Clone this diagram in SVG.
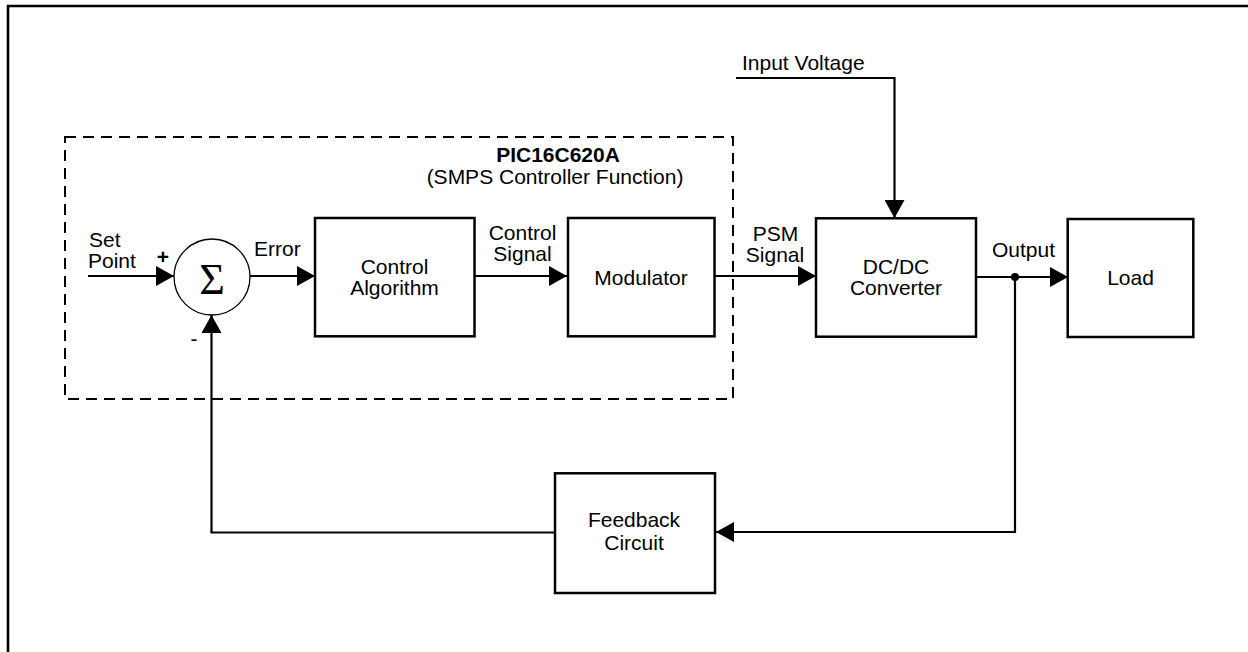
<svg xmlns="http://www.w3.org/2000/svg" width="1248" height="652" viewBox="0 0 1248 652">
<style>
.frame{fill:none;stroke:#000;stroke-width:2.6}
.box{fill:#fff;stroke:#000;stroke-width:2.5}
.dash{fill:none;stroke:#000;stroke-width:2;stroke-dasharray:11 7}
.wire{fill:none;stroke:#000;stroke-width:2.2}
.t{font-family:"Liberation Sans",Arial,sans-serif;font-size:21px;fill:#000}
.m{text-anchor:middle}
.b{font-weight:bold}
</style>
<defs>
<marker id="ah" markerUnits="userSpaceOnUse" markerWidth="18" markerHeight="20" refX="18" refY="10" orient="auto">
<path d="M0,0 L18,10 L0,20 z" fill="#000"/>
</marker>
</defs>
<rect width="1248" height="652" fill="#fff"/>
<path class="frame" d="M8,652 V6 H1248"/>
<g id="controller">
<rect class="dash" x="65" y="137" width="668" height="262"/>
<text class="t m" x="557" y="162"><tspan class="b" x="558">PIC16C620A</tspan><tspan x="555" dy="22">(SMPS Controller Function)</tspan></text>
</g>
<g id="connectors">
<line class="wire" x1="88" y1="276" x2="174" y2="276" marker-end="url(#ah)"/>
<line class="wire" x1="250" y1="276" x2="315" y2="276" marker-end="url(#ah)"/>
<line class="wire" x1="475" y1="276" x2="567" y2="276" marker-end="url(#ah)"/>
<line class="wire" x1="715" y1="276" x2="816" y2="276" marker-end="url(#ah)"/>
<polyline class="wire" points="736,78 894.5,78 894.5,218" marker-end="url(#ah)"/>
<line class="wire" x1="976" y1="277" x2="1068" y2="277" marker-end="url(#ah)"/>
<polyline class="wire" points="1015,277 1015,532 716,532" marker-end="url(#ah)"/>
<polyline class="wire" points="555,532.5 211.5,532.5 211.5,315" marker-end="url(#ah)"/>
<circle cx="1015" cy="277" r="4" fill="#000"/>
<text class="t" x="89" y="247"><tspan x="89">Set</tspan><tspan x="88" dy="21">Point</tspan></text>
<text class="t m b" x="163" y="264">+</text>
<text class="t m" x="194" y="346">-</text>
<text class="t" x="254" y="256">Error</text>
<text class="t m" x="522.5" y="239.5"><tspan x="522.5">Control</tspan><tspan x="522.5" dy="21">Signal</tspan></text>
<text class="t m" x="775.5" y="241"><tspan x="775.5">PSM</tspan><tspan x="775" dy="21">Signal</tspan></text>
<text class="t" x="742" y="69.5">Input Voltage</text>
<text class="t" x="992" y="257">Output</text>
</g>
<g id="sum">
<circle cx="212" cy="277" r="38" fill="#fff" stroke="#000" stroke-width="1.3"/>
<text x="212" y="294" text-anchor="middle" font-family="'Liberation Serif','Times New Roman',serif" font-size="44">Σ</text>
</g>
<g id="control-algorithm">
<rect class="box" x="315" y="218" width="159.5" height="118.3"/>
<text class="t m" x="394.5" y="274"><tspan x="394.5">Control</tspan><tspan x="394.5" dy="21">Algorithm</tspan></text>
</g>
<g id="modulator">
<rect class="box" x="568" y="218" width="146.5" height="118.3"/>
<text class="t m" x="641" y="285">Modulator</text>
</g>
<g id="dcdc">
<rect class="box" x="816" y="218.3" width="160" height="118.4"/>
<text class="t m" x="896" y="274"><tspan x="896">DC/DC</tspan><tspan x="896" dy="21">Converter</tspan></text>
</g>
<g id="load">
<rect class="box" x="1067.7" y="219" width="125.6" height="118"/>
<text class="t m" x="1130.5" y="284.5">Load</text>
</g>
<g id="feedback">
<rect class="box" x="555" y="473.3" width="160" height="119.7"/>
<text class="t m" x="634" y="527"><tspan x="634">Feedback</tspan><tspan x="634" dy="23">Circuit</tspan></text>
</g>
</svg>
